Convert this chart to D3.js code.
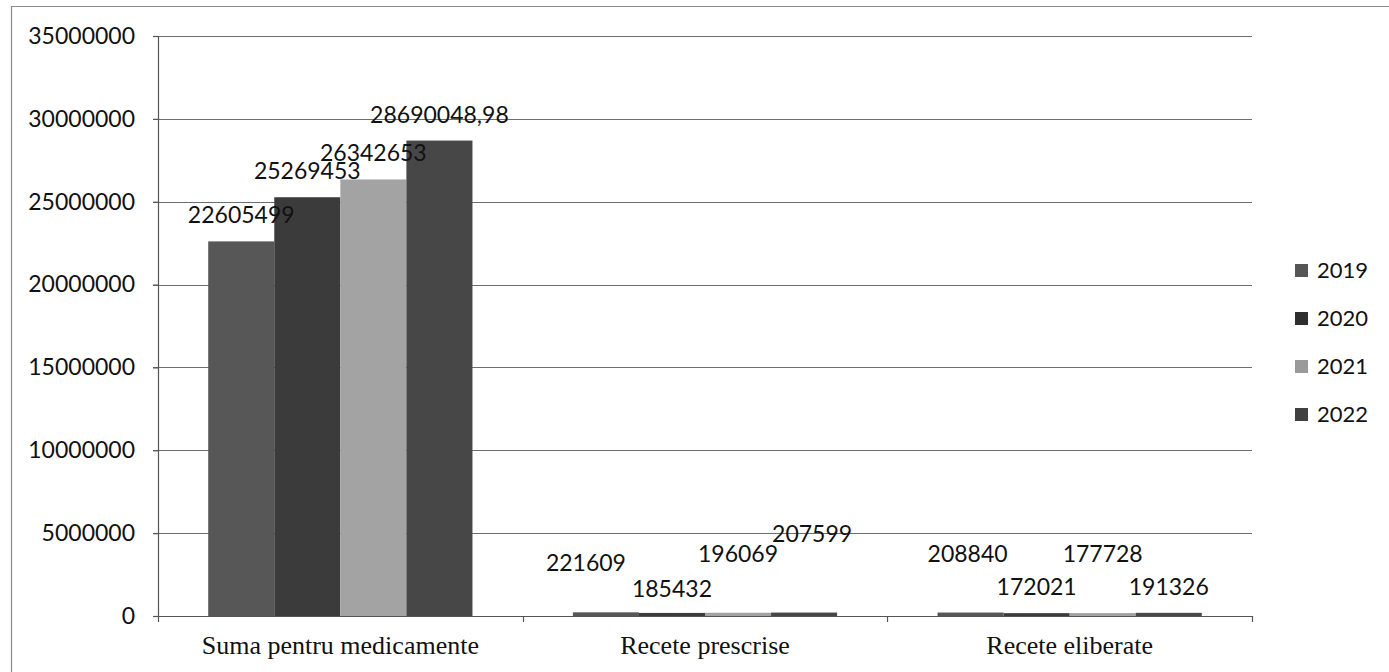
<!DOCTYPE html>
<html>
<head>
<meta charset="utf-8">
<script src="https://cdn.jsdelivr.net/npm/d3@7"></script>
<style>
  html, body { margin: 0; padding: 0; background: #fff; }
  svg { display: block; }
</style>
</head>
<body>
<svg id="chart" width="1389" height="672"></svg>
<script>
// ---- data ----
const categories = ["Suma pentru medicamente", "Recete prescrise", "Recete eliberate"];
const seriesNames = ["2019", "2020", "2021", "2022"];
const values2019 = [22605499, 221609, 208840];
const values2020 = [25269453, 185432, 172021];
const values2021 = [26342653, 196069, 177728];
const values2022 = [28690048.98, 207599, 191326];
const labels2019 = ["22605499", "221609", "208840"];
const labels2020 = ["25269453", "185432", "172021"];
const labels2021 = ["26342653", "196069", "177728"];
const labels2022 = ["28690048,98", "207599", "191326"];
const yTicks = [0, 5000000, 10000000, 15000000, 20000000, 25000000, 30000000, 35000000];

// ---- style / layout ----
const colors = ["#575757", "#3b3b3b", "#a3a3a3", "#474747"];
const legendColors = ["#555555", "#2e2e2e", "#9a9a9a", "#404040"];
// manual label nudges (dx, dy) relative to default "outside end" placement, per series per category
const labelNudge = [
  [[0, 0], [-20, -23], [-3, -33]],
  [[0, 0], [0, 2], [0, 0]],
  [[0, 0], [0, -33], [0, -33]],
  [[0, 0], [8, -53], [0, 0]]
];

const svg = d3.select("#chart");
const margin = { left: 158, right: 137, top: 36, bottom: 56 };
const W = 1389, H = 672;
const plotW = W - margin.left - margin.right;
const plotH = H - margin.top - margin.bottom;

// frame
svg.append("path")
  .attr("d", `M11.5,${H} V6.5 H${W}`)
  .attr("fill", "none").attr("stroke", "#8a8a8a").attr("stroke-width", 1.2);

const g = svg.append("g").attr("transform", `translate(${margin.left},${margin.top})`);

const x0 = d3.scaleBand().domain(categories).range([0, plotW]).padding(0);
const x1 = d3.scaleBand().domain(seriesNames).range([0, x0.bandwidth()]).paddingInner(0).paddingOuter(0.76);
const y = d3.scaleLinear().domain([0, 35000000]).range([plotH, 0]);

// gridlines
g.append("g").selectAll("line").data(yTicks.filter(d => d > 0)).join("line")
  .attr("x1", -5).attr("x2", plotW)
  .attr("y1", d => Math.round(y(d)) + 0.5).attr("y2", d => Math.round(y(d)) + 0.5)
  .attr("stroke", "#6e6e6e").attr("stroke-width", 1.2);

// y axis
const yAxis = d3.axisLeft(y).tickValues(yTicks).tickSize(5).tickPadding(18).tickFormat(d3.format("d"));
const ya = g.append("g").call(yAxis);
ya.select(".domain").attr("stroke", "#555").attr("stroke-width", 1.2);
ya.selectAll(".tick line").attr("stroke", "#555").attr("stroke-width", 1.2);
ya.selectAll("text").attr("font-family", "Lato, 'Open Sans', sans-serif").attr("font-size", 23).attr("fill", "#111");

// bars
const allValues = [values2019, values2020, values2021, values2022];
const allLabels = [labels2019, labels2020, labels2021, labels2022];
const barData = [];
seriesNames.forEach((s, si) => {
  categories.forEach((c, ci) => {
    barData.push({ s, si, c, ci, v: allValues[si][ci], label: allLabels[si][ci] });
  });
});

g.append("g").selectAll("rect").data(barData).join("rect")
  .attr("x", d => x0(d.c) + x1(d.s))
  .attr("width", x1.bandwidth())
  .attr("y", d => y(d.v))
  .attr("height", d => Math.max(plotH - y(d.v), 3))
  .attr("fill", d => colors[d.si]);

// x axis
const xAxis = d3.axisBottom(x0).tickSize(0).tickPadding(20).tickSizeOuter(0);
const xa = g.append("g").attr("transform", `translate(0,${plotH})`).call(xAxis);
xa.select(".domain").attr("stroke", "#555").attr("stroke-width", 1.2);
xa.selectAll("text").attr("font-family", "'Liberation Serif', 'Times New Roman', serif").attr("font-size", 26).attr("fill", "#111");
// category boundary ticks
g.append("g").selectAll("line").data(categories.concat([null])).join("line")
  .attr("x1", (d, i) => Math.round(i * x0.step()) + 0.5)
  .attr("x2", (d, i) => Math.round(i * x0.step()) + 0.5)
  .attr("y1", plotH).attr("y2", plotH + 6)
  .attr("stroke", "#555").attr("stroke-width", 1.2);

// data labels
g.append("g").selectAll("text").data(barData).join("text")
  .attr("x", d => x0(d.c) + x1(d.s) + x1.bandwidth() / 2 + labelNudge[d.si][d.ci][0])
  .attr("y", d => Math.min(y(d.v), plotH - 3) - 18 + labelNudge[d.si][d.ci][1])
  .attr("text-anchor", "middle")
  .attr("font-family", "Lato, 'Open Sans', sans-serif")
  .attr("font-size", 23)
  .attr("fill", "#111")
  .text(d => d.label);

// legend
const legend = svg.append("g").attr("transform", "translate(1295,270)");
const li = legend.selectAll("g").data(seriesNames).join("g")
  .attr("transform", (d, i) => `translate(0,${i * 48})`);
li.append("rect").attr("x", 0).attr("y", -6).attr("width", 13).attr("height", 13)
  .attr("fill", (d, i) => legendColors[i]);
li.append("text").attr("x", 22).attr("y", 8)
  .attr("font-family", "Lato, 'Open Sans', sans-serif").attr("font-size", 22).attr("fill", "#111")
  .text(d => d);
</script>
</body>
</html>
